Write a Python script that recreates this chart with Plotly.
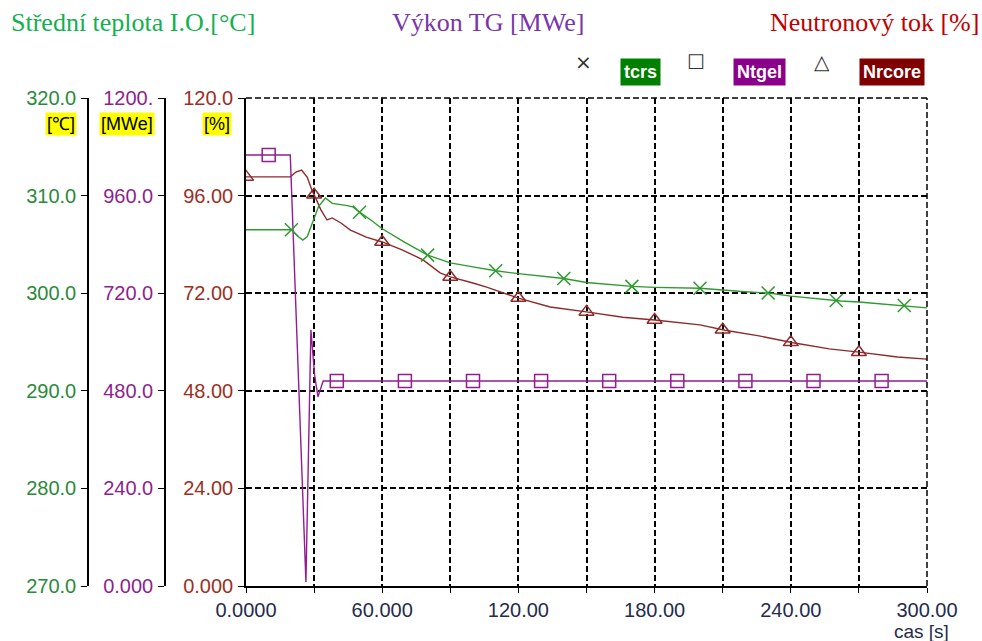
import numpy as np
import plotly.graph_objects as go

# --- data -------------------------------------------------------------
# Mean primary-circuit temperature [°C]
time_tcrs = [0, 20, 23, 25, 27, 29.5, 32, 35, 38, 44, 47, 50, 55, 60, 70, 80, 90,
             100, 110, 120, 140, 150, 170, 180, 200, 220, 231, 240, 262, 270, 292, 300]
tcrs = [306.5, 306.5, 305.8, 305.45, 305.8, 307.3, 308.9, 309.75, 309.2, 309.0, 308.85,
        308.3, 307.5, 306.6, 305.2, 303.9, 303.1, 302.7, 302.3, 302.0, 301.5, 301.1,
        300.7, 300.6, 300.5, 300.15, 300.0, 299.7, 299.2, 299.1, 298.7, 298.5]

# Turbine-generator output [MWe]
time_ntgel = [0, 19.5, 26.4, 28.6, 30.2, 31.7, 34, 300]
ntgel = [1060, 1060, 10, 630, 520, 465, 504, 504]

# Neutron flux [%]
time_nrcore = [0, 19.5, 22, 24.5, 27, 29, 31, 33, 35.7, 38, 42, 46, 53, 60, 69, 78, 85.5,
               90, 100, 106, 120, 134, 150, 166, 180, 200, 211, 226, 241, 257, 270, 287, 300]
nrcore = [100.6, 100.6, 101.8, 102.3, 100.5, 97.4, 95.0, 92.5, 90.0, 90.5, 89.2, 87.5,
          85.8, 84.6, 82.6, 80.2, 77.0, 76.0, 74.5, 73.5, 70.8, 68.6, 67.4, 66.1, 65.4,
          64.2, 62.9, 61.5, 59.8, 58.3, 57.5, 56.3, 55.8]

# times at which the series symbols are placed along each curve
marks_tcrs = list(range(20, 300, 30))
marks_ntgel = list(range(10, 300, 30))
marks_nrcore = list(range(0, 300, 30))

x_ticks = list(range(0, 301, 30))
x_labels = ["0.0000", "", "60.000", "", "120.00", "", "180.00", "", "240.00", "", "300.00"]
pct_ticks = [0, 24, 48, 72, 96, 120]
pct_labels = ["0.000", "24.00", "48.00", "72.00", "96.00", "120.0"]
mwe_ticks = [0, 240, 480, 720, 960, 1200]
mwe_labels = ["0.000", "240.0", "480.0", "720.0", "960.0", "1200."]
temp_ticks = [270, 280, 290, 300, 310, 320]
temp_labels = ["270.0", "280.0", "290.0", "300.0", "310.0", "320.0"]

# --- styling ----------------------------------------------------------
W, H = 982, 641
C_TCRS = "#2f9a2f"
C_NTGEL = "#931c93"
C_NRCORE = "#8e2a2a"
SANS = "Liberation Sans, Arial, sans-serif"
SERIF = "Liberation Serif, Times New Roman, serif"
GRID_DASH = "6px,3px"
GRID_W = 1.5
TICK_SIZE = 20

fig = go.Figure()


def add_series(t, v, marks, color, symbol, yaxis):
    fig.add_trace(go.Scatter(x=t, y=v, mode="lines", yaxis=yaxis,
                             line=dict(color=color, width=1.4), hoverinfo="skip",
                             showlegend=False))
    fig.add_trace(go.Scatter(x=marks, y=np.interp(marks, t, v), mode="markers", yaxis=yaxis,
                             marker=dict(symbol=symbol, size=13, color=color,
                                         line=dict(color=color, width=1.5)),
                             hoverinfo="skip", showlegend=False))


add_series(time_ntgel, ntgel, marks_ntgel, C_NTGEL, "square-open", "y2")
add_series(time_nrcore, nrcore, marks_nrcore, C_NRCORE, "triangle-up-open", "y")
add_series(time_tcrs, tcrs, marks_tcrs, C_TCRS, "x-thin-open", "y3")

x_dom = [246 / W, 927 / W]
y_dom = [1 - 586 / H, 1 - 98 / H]

common_y = dict(domain=y_dom, ticks="outside", ticklen=6, tickcolor="black",
                showline=True, linecolor="black", linewidth=1.5, zeroline=False,
                ticklabelstandoff=1, automargin=False)

fig.update_layout(
    width=W, height=H, margin=dict(l=0, r=0, t=0, b=0),
    paper_bgcolor="white", plot_bgcolor="white", showlegend=False,
    xaxis=dict(domain=x_dom, range=[0, 300], tickvals=x_ticks, ticktext=x_labels,
               ticks="outside", ticklen=5, tickcolor="black", showline=True,
               linecolor="black", linewidth=1.5, zeroline=False,
               showgrid=True, gridcolor="black", gridwidth=GRID_W, griddash=GRID_DASH,
               tickfont=dict(family=SANS, size=TICK_SIZE, color="#1f2c4c"), automargin=False),
    xaxis2=dict(domain=x_dom, range=[0, 300], overlaying="x", side="top", anchor="y",
                tickvals=x_ticks, ticks="inside", ticklen=5, tickcolor="black",
                showticklabels=False, showgrid=False, showline=False, zeroline=False),
    yaxis=dict(range=[0, 120], tickvals=pct_ticks, ticktext=pct_labels,
               showgrid=True, gridcolor="black", gridwidth=GRID_W, griddash=GRID_DASH,
               tickfont=dict(family=SANS, size=TICK_SIZE, color="#9c2f25"), **common_y),
    yaxis2=dict(range=[0, 1200], tickvals=mwe_ticks, ticktext=mwe_labels,
                overlaying="y", anchor="free", position=165 / W, showgrid=False,
                tickfont=dict(family=SANS, size=TICK_SIZE, color="#8e1f8e"), **common_y),
    yaxis3=dict(range=[270, 320], tickvals=temp_ticks, ticktext=temp_labels,
                overlaying="y", anchor="free", position=88 / W, showgrid=False,
                tickfont=dict(family=SANS, size=TICK_SIZE, color="#2a8a3c"), **common_y),
)

# dashed frame on the top and right edges of the plotting area
frame = dict(color="black", width=GRID_W, dash=GRID_DASH)
fig.add_shape(type="line", xref="paper", yref="paper", x0=x_dom[0], x1=x_dom[1],
              y0=y_dom[1], y1=y_dom[1], line=frame)
fig.add_shape(type="line", xref="paper", yref="paper", x0=x_dom[1], x1=x_dom[1],
              y0=y_dom[0], y1=y_dom[1], line=frame)

annotations = []
# headline titles
for text, x, anchor, color in [
    ("Střední teplota I.O.[°C]", 9 / W, "left", "#12b050"),
    ("Výkon TG [MWe]", 390 / W, "left", "#7a35a8"),
    ("Neutronový tok [%]", 981 / W, "right", "#c00000"),
]:
    annotations.append(dict(text=text, x=x, y=1 - 23 / H, xref="paper", yref="paper",
                            xanchor=anchor, yanchor="middle", showarrow=False,
                            font=dict(family=SERIF, size=26, color=color)))

# unit tags under the top tick labels
for text, xr in [("[℃]", 77), ("[MWe]", 155), ("[%]", 232)]:
    annotations.append(dict(text=text, x=xr / W, y=1 - 124 / H, xref="paper", yref="paper",
                            xanchor="right", yanchor="middle", showarrow=False,
                            bgcolor="#ffff00", borderpad=1,
                            font=dict(family=SANS, size=18, color="black")))

# legend: symbol + coloured name tag
for sym, sx, name, nx, color in [
    ("×", 583, "tcrs", 640, "#008000"),
    ("☐", 696, "Ntgel", 759, "#8b008b"),
    ("△", 822, "Nrcore", 892, "#800000"),
]:
    annotations.append(dict(text=sym, x=sx / W, y=1 - 62 / H, xref="paper", yref="paper",
                            xanchor="center", yanchor="middle", showarrow=False,
                            font=dict(family="DejaVu Sans", size=20, color="#333333")))
    annotations.append(dict(text="<b>" + name + "</b>", x=nx / W, y=1 - 72 / H,
                            xref="paper", yref="paper", xanchor="center", yanchor="middle",
                            showarrow=False, bgcolor=color, borderpad=3,
                            font=dict(family=SANS, size=18, color="white")))

# time axis title
annotations.append(dict(text="cas [s]", x=921 / W, y=1 - 631 / H, xref="paper", yref="paper",
                        xanchor="center", yanchor="middle", showarrow=False,
                        font=dict(family=SANS, size=19, color="#1f2c4c")))

fig.update_layout(annotations=annotations)
fig.write_html("out.html")
